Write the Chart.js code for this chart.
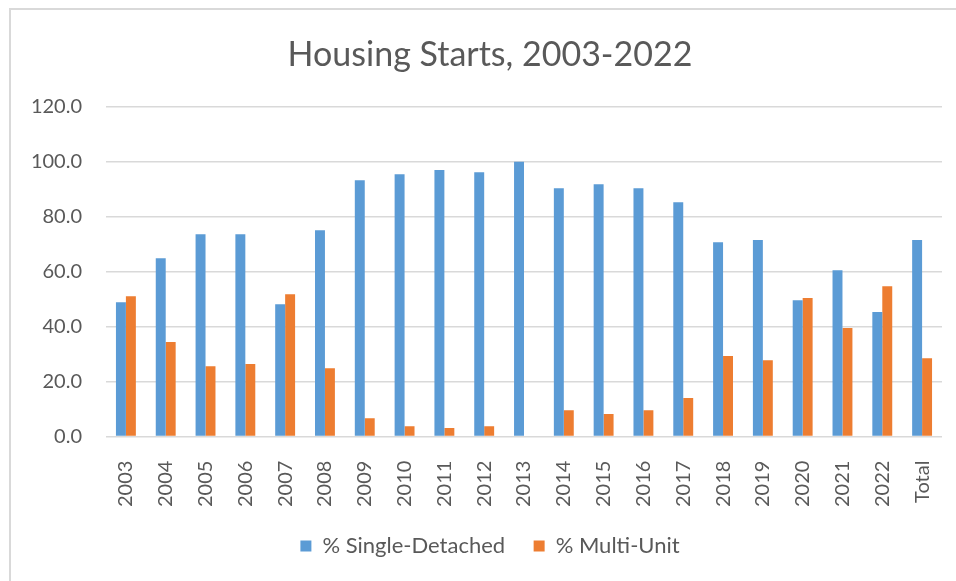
<!DOCTYPE html>
<html>
<head>
<meta charset="utf-8">
<script src="https://cdn.jsdelivr.net/npm/chart.js@4"></script>
<style>
  html, body { margin: 0; padding: 0; background: #fff; overflow: hidden; }
  #wrap { position: relative; width: 956px; height: 581px; }
  #moldura { position: absolute; left: 9px; top: 8px; width: 980px; height: 600px;
    border: 2px solid #d9d9d9; pointer-events: none; }
</style>
</head>
<body>
<div id="wrap"><canvas id="grafico"></canvas><div id="moldura"></div></div>
<script>
const categorias = ['2003', '2004', '2005', '2006', '2007', '2008', '2009', '2010', '2011', '2012',
  '2013', '2014', '2015', '2016', '2017', '2018', '2019', '2020', '2021', '2022', 'Total'];
const singleDetached = [48.9, 64.9, 73.6, 73.6, 48.2, 75.1, 93.3, 95.5, 97.0, 96.2,
  100.0, 90.4, 91.8, 90.4, 85.3, 70.7, 71.5, 49.6, 60.5, 45.3, 71.5];
const multiUnit = [51.1, 34.4, 25.6, 26.4, 51.8, 24.9, 6.7, 3.8, 3.1, 3.8,
  0.0, 9.6, 8.2, 9.6, 14.0, 29.3, 27.8, 50.4, 39.5, 54.7, 28.5];
const yTicks = [0, 20, 40, 60, 80, 100, 120];

const fonte = 'Lato, "Open Sans", sans-serif';
const cinza = '#595959';

new Chart(document.getElementById('grafico').getContext('2d'), {
  type: 'bar',
  data: {
    labels: categorias,
    datasets: [
      { label: '% Single-Detached', data: singleDetached, backgroundColor: '#5b9bd5' },
      { label: '% Multi-Unit', data: multiUnit, backgroundColor: '#ed7d31' }
    ]
  },
  options: {
    responsive: true,
    maintainAspectRatio: false,
    animation: false,
    layout: { padding: { left: 26, right: 2, top: 8, bottom: 14 } },
    datasets: { bar: { categoryPercentage: 0.5, barPercentage: 1.0 } },
    plugins: {
      title: {
        display: true,
        text: 'Housing Starts, 2003-2022',
        color: cinza,
        font: { family: fonte, size: 34, weight: 'normal' },
        padding: { top: 27, bottom: 31 }
      },
      legend: {
        position: 'bottom',
        labels: {
          color: cinza,
          font: { family: fonte, size: 22 },
          boxWidth: 11,
          boxHeight: 11,
          padding: 12,
          // espaço extra entre os dois itens da legenda
          generateLabels: chart => {
            const itens = Chart.defaults.plugins.legend.labels.generateLabels(chart);
            itens.forEach((it, i) => { if (i < itens.length - 1) it.text += '\u2003'; });
            return itens;
          }
        }
      },
      tooltip: { enabled: false }
    },
    scales: {
      x: {
        grid: { display: false },
        border: { display: false },
        afterFit: axis => { axis.paddingLeft = 0; axis.paddingRight = 14; },
        ticks: {
          color: cinza,
          font: { family: fonte, size: 20 },
          maxRotation: 90,
          minRotation: 90,
          autoSkip: false,
          padding: 16
        }
      },
      y: {
        min: yTicks[0],
        max: yTicks[yTicks.length - 1],
        grid: { color: '#d9d9d9', lineWidth: 1.5, drawTicks: false },
        border: { display: false },
        afterBuildTicks: axis => { axis.ticks = yTicks.map(v => ({ value: v })); },
        afterFit: axis => { axis.width = 80; },
        ticks: {
          color: cinza,
          font: { family: fonte, size: 20 },
          padding: 24,
          callback: v => Number(v).toFixed(1)
        }
      }
    }
  }
});
</script>
</body>
</html>
